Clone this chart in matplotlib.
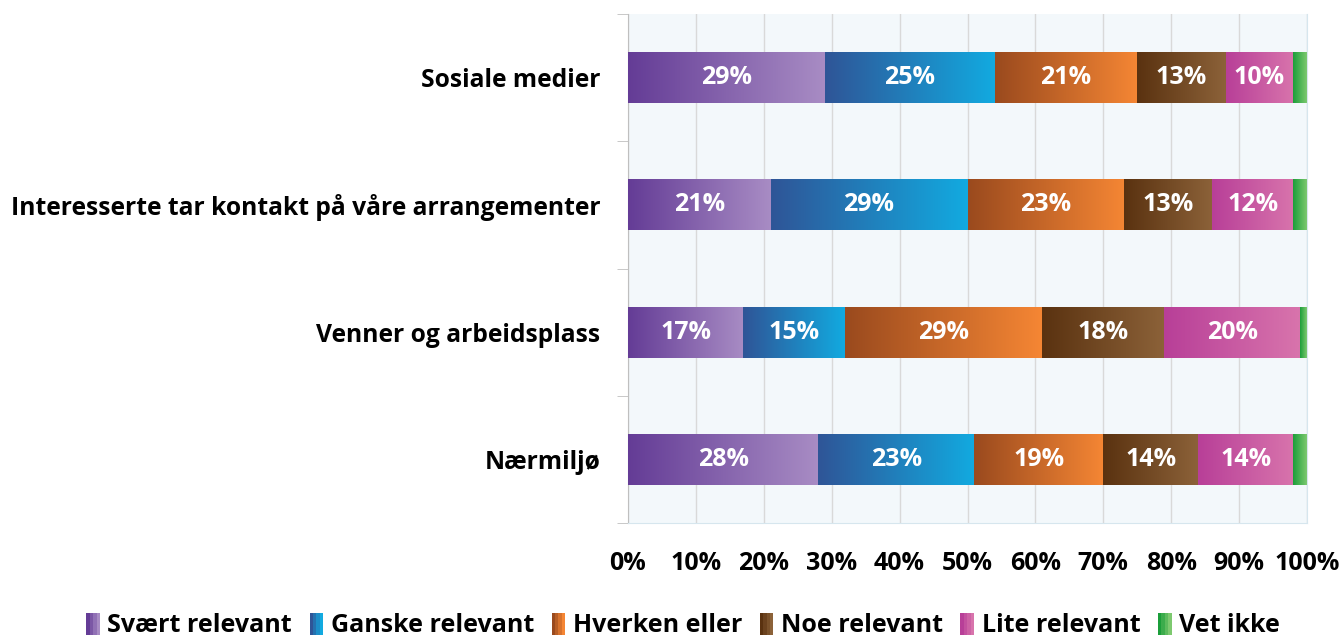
import numpy as np
import matplotlib
matplotlib.use('Agg')
import matplotlib.pyplot as plt
from matplotlib.colors import LinearSegmentedColormap, to_rgb
from matplotlib.patches import Patch
from matplotlib.legend_handler import HandlerTuple

plt.rcParams['font.family'] = ['Open Sans', 'DejaVu Sans']
plt.rcParams['font.weight'] = 'bold'

# Data (percent)
kategorier = ['Sosiale medier', 'Interesserte tar kontakt på våre arrangementer',
              'Venner og arbeidsplass', 'Nærmiljø']
serier = ['Svært relevant', 'Ganske relevant', 'Hverken eller', 'Noe relevant',
          'Lite relevant', 'Vet ikke']
svaert = [29, 21, 17, 28]
ganske = [25, 29, 15, 23]
hverken = [21, 23, 29, 19]
noe = [13, 13, 18, 14]
lite = [10, 12, 20, 14]
vet_ikke = [2, 2, 1, 2]
verdier = [svaert, ganske, hverken, noe, lite, vet_ikke]

# gradient start/end colours per series
farger = [('#643C96', '#A88CC4'),
          ('#2F5597', '#12AAE0'),
          ('#9A4A1E', '#F58634'),
          ('#5A3210', '#8C6239'),
          ('#B83F98', '#D874AC'),
          ('#1B9E3A', '#7DC96F')]

fig = plt.figure(figsize=(13.42, 6.41), dpi=100)
ax = fig.add_axes([628/1342, 1-523/641, 679/1342, 509/641])
ax.set_facecolor('#F3F8FB')

y = np.arange(len(kategorier))[::-1]
venstre = np.zeros(len(kategorier))
gradient = np.linspace(0, 1, 256).reshape(1, -1)

for vals, (c0, c1), navn in zip(verdier, farger, serier):
    vals = np.array(vals, dtype=float)
    bars = ax.barh(y, vals, left=venstre, height=0.4, color=c1, edgecolor='none', zorder=2)
    cmap = LinearSegmentedColormap.from_list(navn, [c0, c1])
    for b in bars:
        x0, yb = b.get_x(), b.get_y()
        im = ax.imshow(gradient, cmap=cmap, aspect='auto', zorder=3,
                       extent=[x0, x0 + b.get_width(), yb, yb + b.get_height()])
        im.set_clip_path(b)
    for yi, l, v in zip(y, venstre, vals):
        if v >= 5:
            ax.text(l + v/2, yi, f'{int(v)}%', ha='center', va='center',
                    color='white', fontsize=18, fontweight='bold', zorder=4)
    venstre += vals

ax.set_xlim(0, 100)
ax.set_ylim(-0.5, len(kategorier) - 0.5)
ax.set_xticks(np.arange(0, 101, 10))
ax.set_xticklabels([f'{t}%' for t in range(0, 101, 10)])
ax.set_yticks(y)
ax.set_yticklabels(kategorier)
ax.set_yticks(np.arange(-0.5, len(kategorier), 1), minor=True)
ax.tick_params(axis='y', which='major', length=0, pad=20, labelsize=17.7)
ax.tick_params(axis='y', which='minor', length=8, color='#BFBFBF')
ax.tick_params(axis='x', length=0, pad=20, labelsize=18)
ax.grid(axis='x', color='#D9D9D9', linewidth=1, zorder=0)
ax.set_axisbelow(True)
ax.spines['top'].set_visible(False)
ax.spines['left'].set_color('#BFBFBF')
ax.spines['bottom'].set_color('#D6E6EE')
ax.spines['right'].set_color('#D6E6EE')


def trinn(c0, c1, n=4):
    a, b = np.array(to_rgb(c0)), np.array(to_rgb(c1))
    return tuple(Patch(facecolor=a + (b - a) * k / (n - 1), edgecolor='none') for k in range(n))


handles = [trinn(c0, c1) for c0, c1 in farger]
fig.legend(handles=handles, labels=serier, loc='center', bbox_to_anchor=(0.509, 0.024), ncol=6,
           frameon=False, fontsize=18, handlelength=0.55, handleheight=1.0,
           handletextpad=0.3, columnspacing=0.7, borderpad=0,
           handler_map={tuple: HandlerTuple(ndivide=None, pad=0)})

fig.savefig('out.png', dpi=100)
